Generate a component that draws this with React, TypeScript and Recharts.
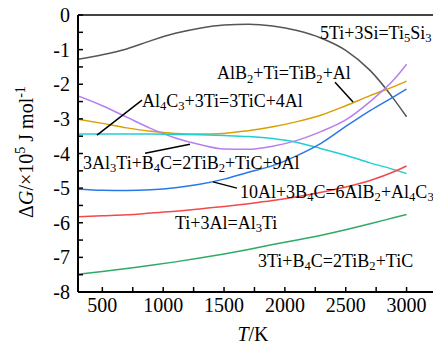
import React from "react";
import {
    LineChart,
    Line,
    XAxis,
    YAxis,
    ReferenceLine,
    ReferenceDot,
    Label,
} from "recharts";

// temperatures (K)
const temps = [300, 500, 700, 900, 1100, 1300, 1500, 1700, 1900, 2100, 2300, 2500, 2700, 2900, 3000];

// ΔG in 1e5 J/mol
const ti5si3 = [-1.28, -1.15, -0.98, -0.74, -0.53, -0.38, -0.29, -0.27, -0.32, -0.45, -0.67, -1.02, -1.6, -2.45, -2.94];
const alb2Ti = [-3.01, -3.13, -3.26, -3.36, -3.42, -3.44, -3.42, -3.34, -3.23, -3.08, -2.89, -2.62, -2.33, -2.06, -1.91];
const al3tiB4c = [-2.34, -2.62, -2.95, -3.28, -3.55, -3.74, -3.87, -3.88, -3.79, -3.62, -3.36, -3.03, -2.5, -1.85, -1.42];
const al4c3Ti = [-3.44, -3.44, -3.44, -3.44, -3.45, -3.46, -3.48, -3.51, -3.57, -3.68, -3.86, -4.05, -4.27, -4.47, -4.58];
const alB4c = [-5.03, -5.06, -5.07, -5.05, -4.99, -4.89, -4.74, -4.54, -4.35, -4.06, -3.7, -3.22, -2.76, -2.35, -2.14];
const al3ti = [-5.83, -5.8, -5.77, -5.72, -5.67, -5.6, -5.53, -5.45, -5.36, -5.25, -5.12, -4.97, -4.78, -4.52, -4.36];
const tiB4c = [-7.49, -7.41, -7.32, -7.23, -7.13, -7.02, -6.9, -6.77, -6.63, -6.5, -6.36, -6.2, -6.03, -5.85, -5.76];

const xTicks = [500, 750, 1000, 1250, 1500, 1750, 2000, 2250, 2500, 2750, 3000];
const yTicks = [-8, -7.5, -7, -6.5, -6, -5.5, -5, -4.5, -4, -3.5, -3, -2.5, -2, -1.5, -1, -0.5, 0];

const series = [
    { key: "ti5si3", values: ti5si3, color: "#555555" },
    { key: "alb2Ti", values: alb2Ti, color: "#d9a000" },
    { key: "al3tiB4c", values: al3tiB4c, color: "#b87ef0" },
    { key: "al4c3Ti", values: al4c3Ti, color: "#22cfcf" },
    { key: "alB4c", values: alB4c, color: "#2a78e8" },
    { key: "al3ti", values: al3ti, color: "#f04a4a" },
    { key: "tiB4c", values: tiB4c, color: "#2eaa66" },
];

// reaction labels, "_" = subscript
const labels = [
    { text: "5Ti+3Si=Ti_5Si_3", T: 2288, G: -0.52 },
    { text: "AlB_2+Ti=TiB_2+Al", T: 1442, G: -1.68 },
    { text: "Al_4C_3+3Ti=3TiC+4Al", T: 826, G: -2.48 },
    { text: "3Al_3Ti+B_4C=2TiB_2+TiC+9Al", T: 341, G: -4.27 },
    { text: "10Al+3B_4C=6AlB_2+Al_4C_3", T: 1631, G: -5.11 },
    { text: "Ti+3Al=Al_3Ti", T: 1097, G: -6.0 },
    { text: "3Ti+B_4C=2TiB_2+TiC", T: 1779, G: -7.1 },
];

const leaders = [
    [{ x: 2412, y: -1.94 }, { x: 2560, y: -2.51 }],
    [{ x: 826, y: -2.46 }, { x: 456, y: -3.47 }],
    [{ x: 851, y: -3.99 }, { x: 1220, y: -3.73 }],
    [{ x: 1409, y: -4.82 }, { x: 1606, y: -5.0 }],
];

const data = temps.map((T, i) => {
    const row: Record<string, number> = { T };
    series.forEach((s) => (row[s.key] = s.values[i]));
    return row;
});

const FONT = "'Liberation Serif', 'Times New Roman', serif";
const FS = 18;

function chem(s: string, fs: number) {
    const bits = s.split(/(_\d+)/).filter(Boolean);
    let low = false;
    return bits.map((b, i) => {
        if (b.startsWith("_")) {
            low = true;
            return (
                <tspan key={i} dy={fs * 0.3} fontSize={fs * 0.7}>
                    {b.slice(1)}
                </tspan>
            );
        }
        const dy = low ? -fs * 0.3 : 0;
        low = false;
        return (
            <tspan key={i} dy={dy}>
                {b}
            </tspan>
        );
    });
}

export default function App() {
    return (
        <div style={{ position: "absolute", left: 0, top: 0, width: 433, height: 347, overflow: "hidden", background: "#fff" }}>
            <LineChart width={437} height={347} data={data} margin={{ top: 15, right: 0, left: 0, bottom: 0 }}>
                <XAxis
                    dataKey="T"
                    type="number"
                    domain={[300, 3250]}
                    ticks={xTicks}
                    allowDataOverflow
                    height={55}
                    tickSize={-5}
                    tickMargin={11}
                    tickFormatter={(v) => (v % 500 === 0 ? String(v) : "")}
                    axisLine={{ stroke: "#000", strokeWidth: 2 }}
                    tickLine={{ stroke: "#000", strokeWidth: 1.5 }}
                    tick={{ fill: "#000", fontSize: 20, fontFamily: FONT }}
                >
                    <Label
                        content={() => (
                            <text x={253} y={341} textAnchor="middle" fontSize={20} fontFamily={FONT} fill="#000">
                                <tspan fontStyle="italic">T</tspan>
                                <tspan>/K</tspan>
                            </text>
                        )}
                    />
                </XAxis>
                <YAxis
                    type="number"
                    domain={[-8, 0]}
                    ticks={yTicks}
                    width={78}
                    tickSize={-5}
                    tickMargin={13}
                    tickFormatter={(v) => (Number.isInteger(v) ? String(v) : "")}
                    axisLine={{ stroke: "#000", strokeWidth: 2 }}
                    tickLine={{ stroke: "#000", strokeWidth: 1.5 }}
                    tick={{ fill: "#000", fontSize: 20, fontFamily: FONT }}
                >
                    <Label
                        content={() => (
                            <text
                                transform="translate(33,152) rotate(-90)"
                                textAnchor="middle"
                                fontSize={20}
                                fontFamily={FONT}
                                fill="#000"
                            >
                                <tspan>Δ</tspan>
                                <tspan fontStyle="italic">G</tspan>
                                <tspan>/×10</tspan>
                                <tspan dy={-8} fontSize={14}>5</tspan>
                                <tspan dy={8}> J mol</tspan>
                                <tspan dy={-8} fontSize={14}>-1</tspan>
                            </text>
                        )}
                    />
                </YAxis>
                <ReferenceLine y={0} stroke="#444" strokeWidth={2} />
                {series.map((s) => (
                    <Line
                        key={s.key}
                        dataKey={s.key}
                        type="monotone"
                        stroke={s.color}
                        strokeWidth={1.5}
                        dot={false}
                        isAnimationActive={false}
                    />
                ))}
                {leaders.map((seg, i) => (
                    <ReferenceLine key={"l" + i} segment={seg} stroke="#000" strokeWidth={1.5} />
                ))}
                {labels.map((l, i) => (
                    <ReferenceDot
                        key={"t" + i}
                        x={l.T}
                        y={l.G}
                        r={0}
                        shape={(p: any) => (
                            <text
                                x={p.cx}
                                y={p.cy}
                                dominantBaseline="central"
                                fontSize={FS}
                                fontFamily={FONT}
                                fill="#000"
                            >
                                {chem(l.text, FS)}
                            </text>
                        )}
                    />
                ))}
            </LineChart>
        </div>
    );
}
